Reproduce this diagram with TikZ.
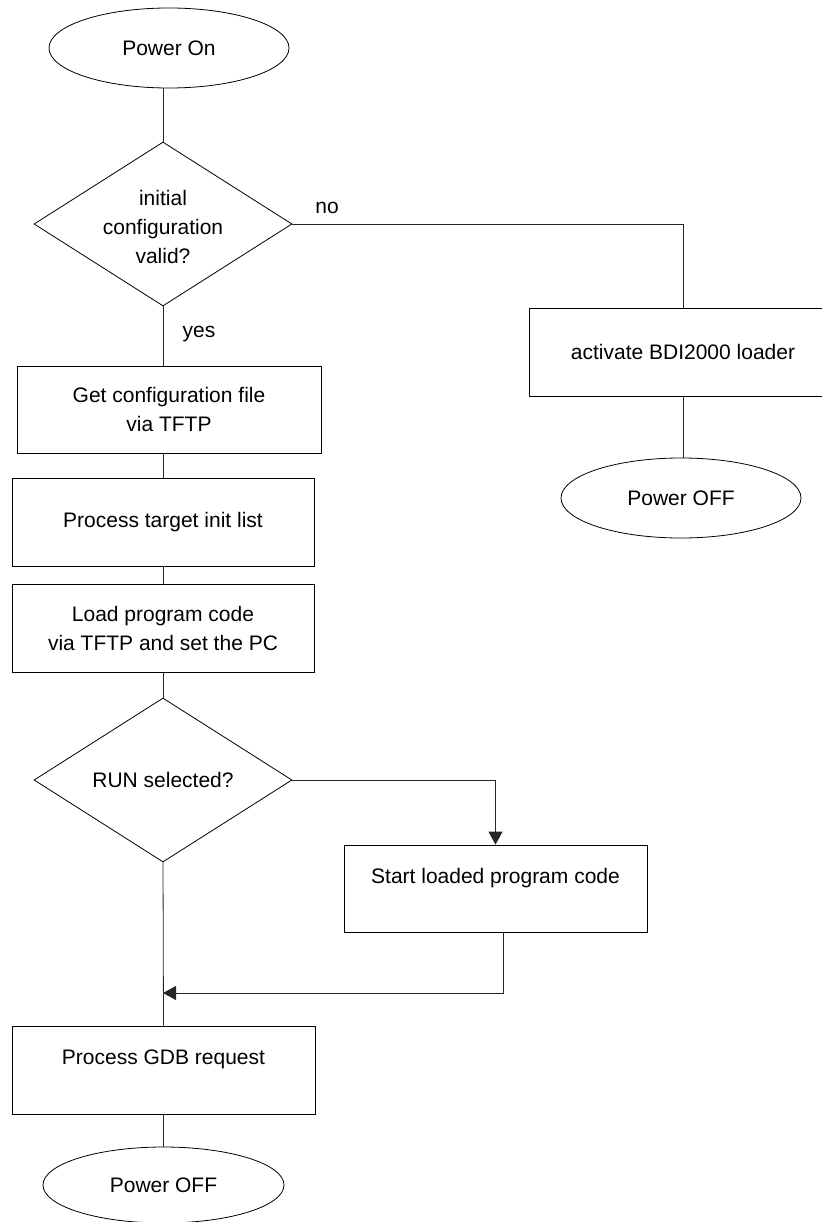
\documentclass[tikz,border=0pt]{standalone}
\usepackage{fontspec}
\setmainfont{Liberation Sans}
\usetikzlibrary{shapes.geometric,arrows.meta}
\tikzset{
  every node/.style={font=\fontsize{21}{29}\selectfont},
  box/.style={draw=black, line width=0.8pt, rectangle, inner sep=0pt, align=center, minimum width=#1, minimum height=88pt},
  box/.default=302pt,
  upper/.style={text height=15.5pt, text depth=26pt},
  term/.style={draw=black, line width=0.8pt, ellipse, inner sep=0pt, minimum width=240pt, minimum height=80pt},
  decide/.style={draw=black, line width=0.8pt, diamond, inner sep=0pt, minimum width=258pt, minimum height=164pt},
  conn/.style={draw=black!85, line width=0.8pt},
  arr/.style={conn, -{Triangle[length=13pt,width=14pt]}},
}
\begin{document}
\begin{tikzpicture}[x=1pt,y=-1pt]
\useasboundingbox (0,0) rectangle (821,1222);
% nodes
\node[term] (e1) at (169,48) {Power On};
\node[decide, label={[align=center, yshift=-3pt]center:initial\\configuration\\valid?}] (d1) at (163,224) {};
\node[box=304pt, minimum height=87pt] (b1) at (169,409.5) {Get configuration file\\via TFTP};
\node[box] (b2) at (163,522) {Process target init list};
\node[box] (b3) at (163,628) {Load program code\\via TFTP and set the PC};
\node[decide, label={center:RUN selected?}] (d2) at (163,780) {};
\node[box=303pt, minimum height=87pt, upper] (b4) at (495.5,888.5) {Start loaded program code};
\node[box=303pt, upper] (b5) at (163.5,1070) {Process GDB request};
\node[term, minimum width=241pt, minimum height=76pt] (e3) at (163.5,1185) {Power OFF};
\node[box=308pt] (b6) at (683,352) {activate BDI2000 loader};
\node[term] (e2) at (681,498) {Power OFF};
\node (no) at (327,208) {no};
\node (yes) at (199,334) {yes};
\coordinate (j) at (163,993);
% connectors
\draw[conn] (d1.north) -- (d1.north |- e1.south);
\draw[conn] (d1.south) -- (d1.south |- b1.north);
\draw[conn] (b2.north) -- (b2.north |- b1.south);
\draw[conn] (b2.south) -- (b3.north);
\draw[conn] (b3.south) -- (d2.north);
\draw[conn] (d1.east) -| (b6.north);
\draw[conn] (b6.south) -- (b6.south |- e2.north);
\draw[arr] (d2.east) -| (b4.north);
\draw[arr] ([xshift=7.5pt]b4.south) |- (j);
\draw[conn] (d2.south) -- (b5.north);
\draw[conn] (b5.south) -- (b5.south |- e3.north);
\end{tikzpicture}
\end{document}
